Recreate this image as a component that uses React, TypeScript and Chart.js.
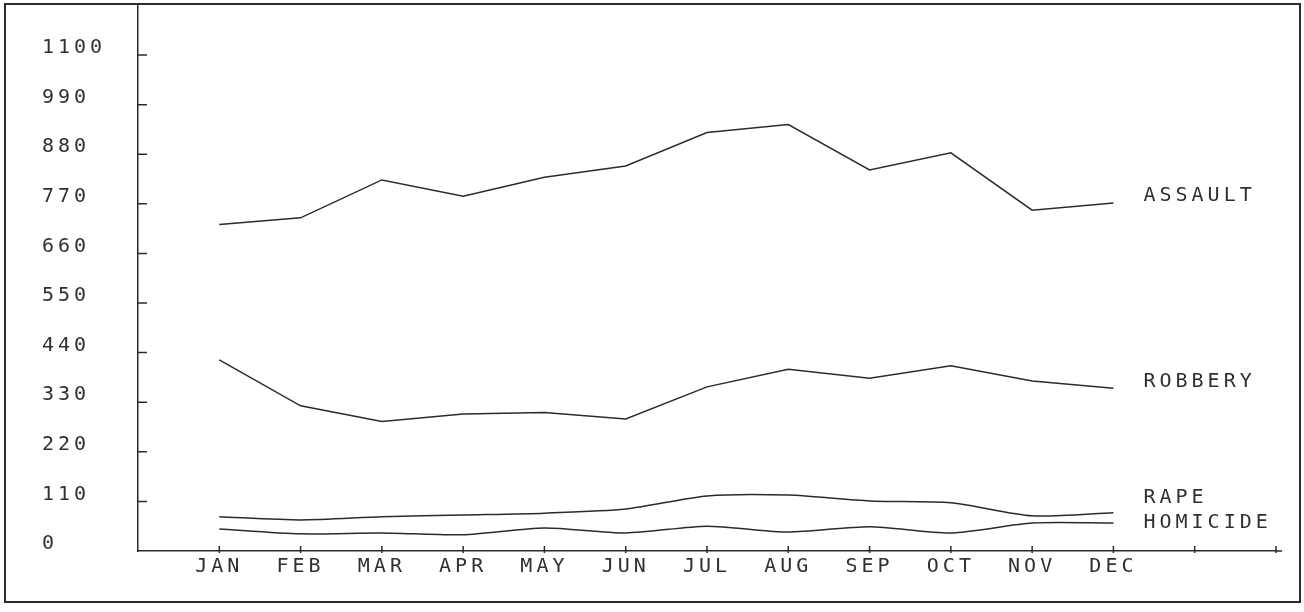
import { useEffect, useRef } from 'react';
import { Chart, registerables } from 'chart.js';

Chart.register(...registerables);

// ---- data ----
const months = ['JAN', 'FEB', 'MAR', 'APR', 'MAY', 'JUN', 'JUL', 'AUG', 'SEP', 'OCT', 'NOV', 'DEC'];
const assault = [724, 739, 823, 787, 829, 854, 928, 946, 845, 883, 756, 772];
const robbery = [424, 322, 287, 304, 307, 293, 364, 403, 383, 411, 377, 361];
const rape = [76, 69, 76, 80, 84, 93, 122, 124, 111, 107, 78, 85];
const homicide = [49, 38, 40, 36, 51, 40, 55, 42, 54, 40, 62, 62];
const yTicks = [0, 110, 220, 330, 440, 550, 660, 770, 880, 990, 1100];
const xTicks = [1, 2, 3, 4, 5, 6, 7, 8, 9, 10, 11, 12, 13, 14];
const seriesNames = ['ASSAULT', 'ROBBERY', 'RAPE', 'HOMICIDE'];
const labelValues = [787, 376, 117, 63];

const INK = '#2b2b2b';
const TEXT = '#303030';
const FONT_FAMILY = '"DejaVu Sans Mono", "Liberation Mono", monospace';
const FONT_SIZE = 20;

const toPoints = (arr: number[]) => arr.map((v, i) => ({ x: i + 1, y: v }));

export default function App() {
  const ref = useRef<HTMLCanvasElement>(null);

  useEffect(() => {
    const canvas = ref.current;
    if (!canvas) return;

    const decor = {
      id: 'decor',
      beforeDraw(chart: any) {
        const c = chart.ctx;
        c.save();
        c.fillStyle = '#ffffff';
        c.fillRect(0, 0, chart.width, chart.height);
        c.restore();
        c.letterSpacing = '4px';
      },
      afterDraw(chart: any) {
        const c = chart.ctx;
        const xs = chart.scales.x;
        const ys = chart.scales.y;
        c.save();
        c.strokeStyle = INK;
        c.lineWidth = 1.5;
        c.beginPath();
        yTicks.forEach((v) => {
          if (v === 0) return;
          const py = ys.getPixelForValue(v);
          c.moveTo(xs.left, py);
          c.lineTo(xs.left + 9, py);
        });
        xTicks.forEach((v) => {
          const px = xs.getPixelForValue(v);
          c.moveTo(px, ys.bottom - 5);
          c.lineTo(px, ys.bottom + 2);
        });
        c.moveTo(xs.right, ys.bottom);
        c.lineTo(xs.right + 6, ys.bottom);
        c.stroke();

        c.font = `${FONT_SIZE}px ${FONT_FAMILY}`;
        c.fillStyle = TEXT;
        c.textAlign = 'left';
        c.textBaseline = 'middle';
        const lx = xs.getPixelForValue(12) + 30;
        seriesNames.forEach((n, i) => {
          c.fillText(n, lx, ys.getPixelForValue(labelValues[i]));
        });

        c.lineWidth = 2;
        c.strokeRect(5, 4, 1295, 598);
        c.restore();
      },
    };

    const lineDs = (data: number[], tension: number) => ({
      data: toPoints(data),
      borderColor: INK,
      borderWidth: 1.5,
      pointRadius: 0,
      fill: false,
      tension,
    });

    const chart = new Chart(canvas, {
      type: 'line',
      data: {
        datasets: [
          lineDs(assault, 0),
          lineDs(robbery, 0),
          lineDs(rape, 0.25),
          lineDs(homicide, 0.25),
        ],
      },
      options: {
        responsive: false,
        animation: false,
        devicePixelRatio: 1,
        layout: { padding: { left: 42, top: 5, right: 28, bottom: 0 } },
        plugins: { legend: { display: false }, tooltip: { enabled: false } },
        scales: {
          x: {
            type: 'linear',
            min: 0,
            max: 14,
            afterBuildTicks: (s: any) => {
              s.ticks = xTicks.map((v) => ({ value: v }));
            },
            afterFit: (s: any) => {
              s.height = 61;
              s.paddingLeft = 0;
              s.paddingRight = 0;
            },
            ticks: {
              autoSkip: false,
              maxRotation: 0,
              padding: 4,
              color: TEXT,
              font: { family: FONT_FAMILY, size: FONT_SIZE },
              callback: (v: any) => months[Number(v) - 1] ?? '',
            },
            grid: { display: false, drawTicks: false },
            border: { display: true, color: INK, width: 1.5 },
          },
          y: {
            type: 'linear',
            min: 0,
            max: 1211,
            afterBuildTicks: (s: any) => {
              s.ticks = yTicks.map((v) => ({ value: v }));
            },
            afterFit: (s: any) => {
              s.width = 96;
              s.paddingTop = 0;
              s.paddingBottom = 0;
            },
            ticks: {
              crossAlign: 'far',
              labelOffset: -7,
              color: TEXT,
              font: { family: FONT_FAMILY, size: FONT_SIZE },
              callback: (v: any) => String(v),
            },
            grid: { display: false, drawTicks: false },
            border: { display: true, color: INK, width: 1.5 },
          },
        },
      },
      plugins: [decor],
    } as any);

    return () => chart.destroy();
  }, []);

  return (
    <div style={{ position: 'absolute', left: 0, top: 0, width: 1304, height: 612 }}>
      <canvas ref={ref} width={1304} height={612} style={{ display: 'block' }} />
    </div>
  );
}
